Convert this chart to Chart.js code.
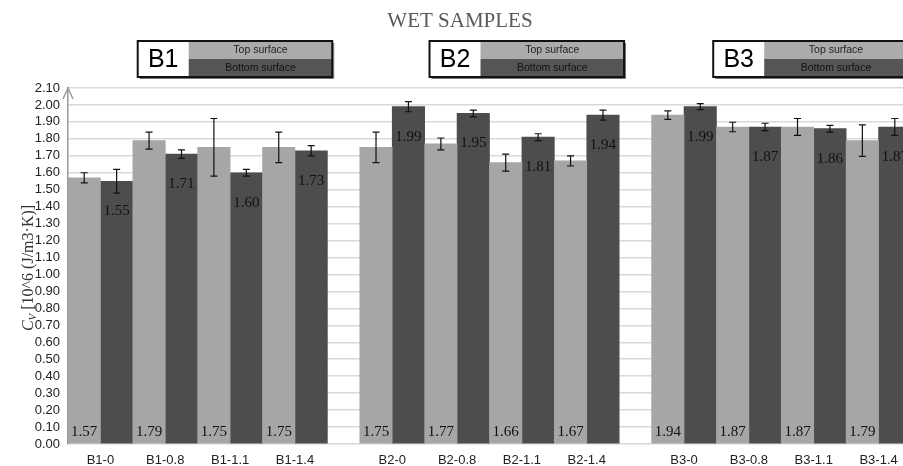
<!DOCTYPE html>
<html>
<head>
<meta charset="utf-8">
<script src="https://cdn.jsdelivr.net/npm/chart.js@4.4.1/dist/chart.umd.min.js"></script>
<style>
  html, body { margin: 0; padding: 0; background: #fff; overflow: hidden; }
  #wrap { width: 920px; height: 466px; }
</style>
</head>
<body>
<div id="wrap"><canvas id="chart"></canvas></div>
<script>
const chartTitle = "WET SAMPLES";
const groups = ["B1", "B2", "B3"];
const sampleNames = [
  "B1-0", "B1-0.8", "B1-1.1", "B1-1.4",
  "B2-0", "B2-0.8", "B2-1.1", "B2-1.4",
  "B3-0", "B3-0.8", "B3-1.1", "B3-1.4"
];
const seriesNames = ["Top surface", "Bottom surface"];
const topValues = [1.57, 1.79, 1.75, 1.75, 1.75, 1.77, 1.66, 1.67, 1.94, 1.87, 1.87, 1.79];
const bottomValues = [1.55, 1.71, 1.60, 1.73, 1.99, 1.95, 1.81, 1.94, 1.99, 1.87, 1.86, 1.87];
const topErrors = [0.03, 0.05, 0.17, 0.09, 0.09, 0.035, 0.05, 0.03, 0.025, 0.028, 0.05, 0.093];
const bottomErrors = [0.07, 0.025, 0.02, 0.03, 0.03, 0.02, 0.02, 0.03, 0.018, 0.022, 0.02, 0.05];
const yMin = 0, yMax = 2.1, yStep = 0.1;

// each group: 4 samples x 2 bars, then one empty slot
const perGroup = 4;
const groupSlots = perGroup * 2 + 1;
const slot = (k, s) => Math.floor(k / perGroup) * groupSlots + (k % perGroup) * 2 + s + 0.5;

// legend box placement, in slots from group start
const legendSlots = [[2.15, 8.15], [2.15, 8.15], [1.9, 7.9]];

const colors = { top: "#a6a6a6", bottom: "#4d4d4d", legTop: "#ababab", legBottom: "#555555" };
const sans = "'Liberation Sans', Arial, sans-serif";
const serif = "'Liberation Serif', 'Times New Roman', serif";

const decorations = {
  id: "decorations",
  afterDatasetsDraw(chart) {
    const { ctx, scales: { y } } = chart;
    const errs = [topErrors, bottomErrors];
    ctx.save();
    chart.data.datasets.forEach((ds, di) => {
      const meta = chart.getDatasetMeta(di);
      meta.data.forEach((bar, i) => {
        const v = ds.data[i].y;
        const e = errs[di][i];
        // error bar
        const hi = y.getPixelForValue(v + e);
        const lo = y.getPixelForValue(v - e);
        ctx.strokeStyle = "#111";
        ctx.lineWidth = 1.2;
        ctx.beginPath();
        ctx.moveTo(bar.x, hi); ctx.lineTo(bar.x, lo);
        ctx.moveTo(bar.x - 3.5, hi); ctx.lineTo(bar.x + 3.5, hi);
        ctx.moveTo(bar.x - 3.5, lo); ctx.lineTo(bar.x + 3.5, lo);
        ctx.stroke();
        // value label
        ctx.fillStyle = "#111";
        ctx.font = "15px " + serif;
        ctx.textAlign = "center";
        ctx.textBaseline = "middle";
        const ly = di === 0 ? y.getPixelForValue(0) - 12 : bar.y + 30;
        ctx.fillText(v.toFixed(2), bar.x, ly);
      });
    });
    ctx.restore();
  },
  afterDraw(chart) {
    const { ctx, chartArea, scales: { x } } = chart;
    ctx.save();

    // title
    ctx.fillStyle = "#595959";
    ctx.font = "21px " + serif;
    ctx.textAlign = "center";
    ctx.textBaseline = "middle";
    ctx.fillText(chartTitle, chart.width / 2, 21);

    // legend boxes
    groups.forEach((g, gi) => {
      const left = x.getPixelForValue(gi * groupSlots + legendSlots[gi][0]);
      const right = x.getPixelForValue(gi * groupSlots + legendSlots[gi][1]);
      const top = 41, mid = 59, bottom = 77;
      const split = left + 51;
      ctx.fillStyle = "#fff";
      ctx.fillRect(left, top, split - left, bottom - top);
      ctx.fillStyle = colors.legTop;
      ctx.fillRect(split, top, right - split, mid - top);
      ctx.fillStyle = colors.legBottom;
      ctx.fillRect(split, mid, right - split, bottom - mid);
      ctx.strokeStyle = "#777";
      ctx.lineWidth = 1;
      ctx.beginPath();
      ctx.moveTo(left + 2, bottom + 1.5); ctx.lineTo(right + 1.5, bottom + 1.5); ctx.lineTo(right + 1.5, top + 2);
      ctx.stroke();
      ctx.strokeStyle = "#111";
      ctx.lineWidth = 2;
      ctx.strokeRect(left, top, right - left, bottom - top);

      ctx.fillStyle = "#000";
      ctx.textAlign = "center";
      ctx.textBaseline = "middle";
      ctx.font = "25px " + sans;
      ctx.fillText(g, (left + split) / 2, (top + bottom) / 2 + 1);
      ctx.font = "10.5px " + sans;
      ctx.fillStyle = "#222";
      ctx.fillText(seriesNames[0], (split + right) / 2, (top + mid) / 2 + 0.5);
      ctx.fillStyle = "#111";
      ctx.fillText(seriesNames[1], (split + right) / 2, (mid + bottom) / 2 + 0.5);
    });

    // arrow on the value axis
    const ax = chartArea.left;
    ctx.strokeStyle = "#999";
    ctx.lineWidth = 1.5;
    ctx.beginPath();
    ctx.moveTo(ax - 5, chartArea.top + 11);
    ctx.lineTo(ax, chartArea.top);
    ctx.lineTo(ax + 5, chartArea.top + 11);
    ctx.stroke();

    // y axis title: italic C with subscript V
    ctx.translate(29, (chartArea.top + chartArea.bottom) / 2 + 2);
    ctx.rotate(-Math.PI / 2);
    ctx.fillStyle = "#333";
    ctx.textAlign = "left";
    ctx.textBaseline = "middle";
    const fC = "italic 16px " + serif, fV = "italic 11px " + serif, fR = "16px " + serif;
    const rest = " [10^6 (J/m3\u00b7K)]";
    ctx.font = fC; const wC = ctx.measureText("C").width;
    ctx.font = fV; const wV = ctx.measureText("V").width;
    ctx.font = fR; const wR = ctx.measureText(rest).width;
    let px = -(wC + wV + wR) / 2;
    ctx.font = fC; ctx.fillText("C", px, 0); px += wC;
    ctx.font = fV; ctx.fillText("V", px, 4); px += wV;
    ctx.font = fR; ctx.fillText(rest, px, 0);

    ctx.restore();
  }
};

new Chart(document.getElementById("chart"), {
  type: "bar",
  data: {
    datasets: [
      {
        label: seriesNames[0],
        data: topValues.map((v, k) => ({ x: slot(k, 0), y: v })),
        backgroundColor: colors.top
      },
      {
        label: seriesNames[1],
        data: bottomValues.map((v, k) => ({ x: slot(k, 1), y: v })),
        backgroundColor: colors.bottom
      }
    ]
  },
  options: {
    responsive: true,
    maintainAspectRatio: false,
    animation: false,
    layout: { padding: { top: 88, left: 30, right: 9, bottom: 0 } },
    datasets: {
      bar: { grouped: false, barPercentage: 1, categoryPercentage: 1, borderWidth: 0 }
    },
    plugins: {
      legend: { display: false },
      tooltip: { enabled: false }
    },
    scales: {
      x: {
        type: "linear",
        offset: false,
        min: 0,
        max: groups.length * groupSlots - 1,
        grid: { display: false, drawTicks: false },
        border: { display: false },
        afterBuildTicks: (s) => {
          s.ticks = sampleNames.map((n, k) => ({ value: slot(k, 0) + 0.5 }));
        },
        afterFit: (s) => { s.height = 22; },
        ticks: {
          autoSkip: false,
          maxRotation: 0,
          padding: 9,
          color: "#222",
          font: { family: sans, size: 13 },
          callback: (v, i) => sampleNames[i]
        }
      },
      y: {
        min: yMin,
        max: yMax,
        afterFit: (s) => { s.width = 38; },
        grid: { color: "#d9d9d9", lineWidth: 1.5, drawTicks: false },
        border: { color: "#999", width: 1.5 },
        ticks: {
          stepSize: yStep,
          autoSkip: false,
          padding: 8,
          color: "#222",
          font: { family: sans, size: 13 },
          callback: (v) => v.toFixed(2)
        }
      }
    }
  },
  plugins: [decorations]
});
</script>
</body>
</html>
